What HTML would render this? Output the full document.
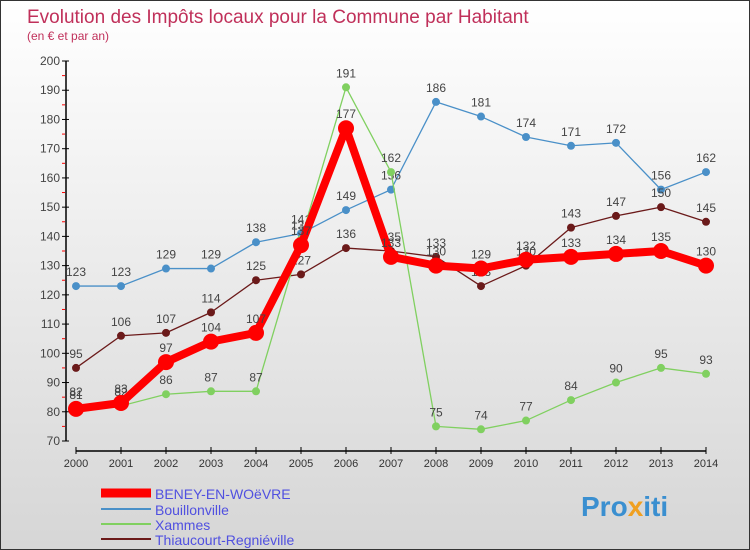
<!DOCTYPE html>
<html><head><meta charset="utf-8"><style>
body{margin:0}
#wrap{position:relative;width:748px;height:548px;border:1px solid #333;background:linear-gradient(#fff,#d6d6d6);font-family:"Liberation Sans",sans-serif;overflow:hidden}
svg text{font-family:"Liberation Sans",sans-serif}
</style></head><body>
<div id="wrap">
<svg id="c" width="748" height="548">
<text x="26" y="22" font-size="19" fill="#c0305a">Evolution des Impôts locaux pour la Commune par Habitant</text>
<text x="26" y="39" font-size="12" fill="#c0305a">(en € et par an)</text>
<g id="axes"></g><g id="series"></g>
<g>
<line x1="100" y1="492" x2="150" y2="492" stroke="#f00" stroke-width="9"/><text x="154" y="498" font-size="14" fill="#5050e0">BENEY-EN-WOëVRE</text>
<line x1="100" y1="508" x2="150" y2="508" stroke="#4a90c8" stroke-width="2"/><text x="154" y="514" font-size="14" fill="#5050e0">Bouillonville</text>
<line x1="100" y1="523" x2="150" y2="523" stroke="#80d060" stroke-width="2"/><text x="154" y="529" font-size="14" fill="#5050e0">Xammes</text>
<line x1="100" y1="538" x2="150" y2="538" stroke="#6b1a1a" stroke-width="2"/><text x="154" y="544" font-size="14" fill="#5050e0">Thiaucourt-Regniéville</text>
</g>
<text x="580" y="515" font-size="28" font-weight="bold" fill="#3a8fd0">Pro<tspan fill="#f0a020">x</tspan>iti</text>
</svg></div>
<script>
const years=[2000,2001,2002,2003,2004,2005,2006,2007,2008,2009,2010,2011,2012,2013,2014];
const yTicks=[70,80,90,100,110,120,130,140,150,160,170,180,190,200];
const mainVals=[81,83,97,104,107,137,177,133,130,129,132,133,134,135,130];
const bouVals=[123,123,129,129,138,141,149,156,186,181,174,171,172,156,162];
const xamVals=[82,82,86,87,87,139,191,162,75,74,77,84,90,95,93];
const thiVals=[95,106,107,114,125,127,136,135,133,123,130,143,147,150,145];
const NS="http://www.w3.org/2000/svg";
const X=i=>75+i*45, Y=v=>440-(v-70)*380/130;
function mk(t,a,p){const e=document.createElementNS(NS,t);for(const k in a)e.setAttribute(k,a[k]);p.appendChild(e);return e;}
const ax=document.getElementById('axes');
const yl=mk('line',{x1:65,y1:60,x2:65,y2:440,stroke:'#000','stroke-width':1.5},ax);


const xl=mk('line',{x1:75,y1:450,x2:705,y2:450,stroke:'#000','stroke-width':1.5},ax);


yTicks.forEach((v,i)=>{
 mk('line',{x1:61,x2:68,y1:Y(v),y2:Y(v),stroke:'#000'},ax);
 if(i<yTicks.length-1)mk('line',{x1:61,x2:64,y1:Y(v+5),y2:Y(v+5),stroke:'#f00'},ax);
 const t=mk('text',{x:59,y:Y(v)+4,'text-anchor':'end','font-size':12,fill:'#444'},ax);t.textContent=v;
 
 
});
years.forEach((yr,i)=>{
 mk('line',{x1:X(i),x2:X(i),y1:446,y2:453,stroke:'#000'},ax);
 const t=mk('text',{x:X(i),y:466,'text-anchor':'middle','font-size':11,fill:'#333'},ax);t.textContent=yr;
 
 
});
const sg=document.getElementById('series');
function series(vals,color,w,r,name){
 const g=mk('g',{},sg);
 
 
 mk('polyline',{points:vals.map((v,i)=>X(i)+','+Y(v)).join(' '),fill:'none',stroke:color,'stroke-width':w,'stroke-linejoin':'round'},g);
 vals.forEach((v,i)=>{
  const c=mk('circle',{cx:X(i),cy:Y(v),r:r,fill:color},g);
  
  
  const t=mk('text',{x:X(i),y:Y(v)-10,'text-anchor':'middle','font-size':12,fill:'#444'},g);t.textContent=v;
  
  
 });
}
series(bouVals,'#4a90c8',1.3,4,'series-bouillonville');
series(thiVals,'#6b1a1a',1.3,4,'series-thiaucourt');
series(xamVals,'#80d060',1.3,4,'series-xammes');
series(mainVals,'#f00',8,8,'series-beney');
</script>
</body></html>
